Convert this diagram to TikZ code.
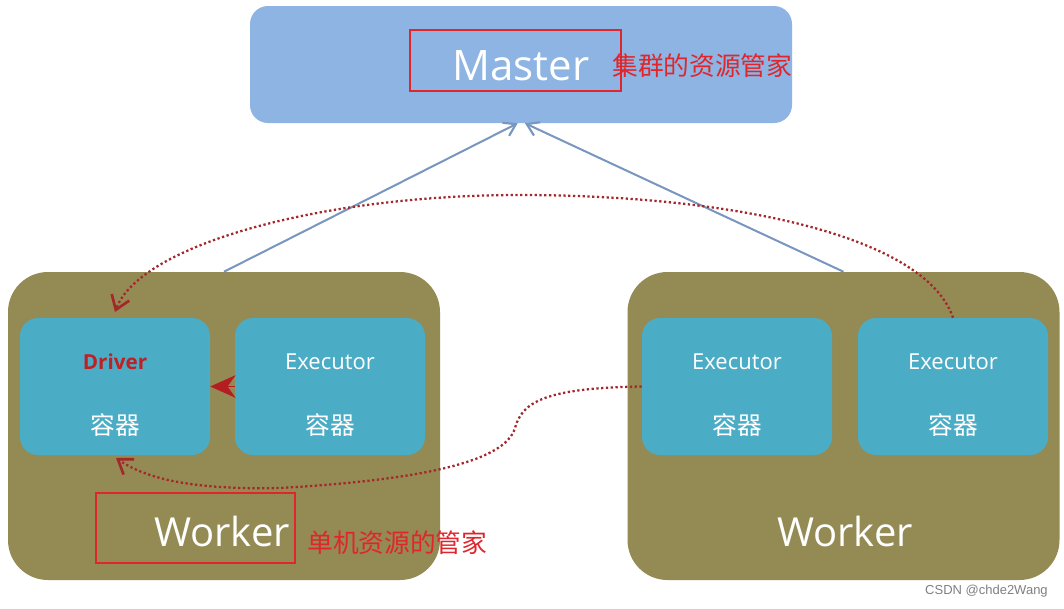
\documentclass[tikz,border=0pt]{standalone}
\usepackage{fontspec}
\setmainfont{Open Sans}
\newfontfamily\cjk{Noto Sans CJK SC}
\newfontfamily\wmfont{Liberation Sans}
\usetikzlibrary{arrows.meta}
\definecolor{masterblue}{HTML}{8DB4E2}
\definecolor{olive}{HTML}{948A54}
\definecolor{teal}{HTML}{4BACC6}
\definecolor{linkblue}{HTML}{7896BE}
\definecolor{annred}{HTML}{E0262C}
\definecolor{dotred}{HTML}{A3272B}
\definecolor{wmgray}{HTML}{808080}
\tikzset{
  masterbox/.style={fill=masterblue, rounded corners=13.5pt, minimum width=406.5pt, minimum height=87.75pt, inner sep=0pt},
  workerbox/.style={fill=olive, rounded corners=30pt, minimum width=324pt, minimum height=231pt, inner sep=0pt},
  cbox/.style={fill=teal, rounded corners=13.5pt, minimum width=142.5pt, minimum height=102.75pt, inner sep=0pt},
  annbox/.style={draw=annred, line width=1.5pt, inner sep=0pt},
  whitetxt/.style={text=white, inner sep=0pt},
  exectxt/.style={whitetxt, font=\fontsize{16.5}{18}\selectfont},
  cjktxt/.style={whitetxt, font=\cjk\fontsize{18.5}{20}\selectfont},
  bigtxt/.style={whitetxt, font=\fontsize{30}{34}\selectfont},
  anntxt/.style={text=annred, inner sep=0pt, anchor=west, font=\cjk\fontsize{19.3}{22}\selectfont},
  bluelink/.style={draw=linkblue, line width=1.5pt, -{Straight Barb[length=8.5pt,width=11pt,line width=1.6pt]}},
  dotlink/.style={draw=dotred, line width=1.7pt, dash pattern=on 1.7pt off 1.9pt,
     -{Straight Barb[length=10pt,width=14pt,line width=2pt,sep=0pt]}},
}
\begin{document}
\begin{tikzpicture}[x=0.75pt,y=-0.75pt]
\path[use as bounding box, fill=white] (0,0) rectangle (1064,608);

% Master
\node[masterbox] (master) at (521,64.5) {};
\node[annbox, minimum width=158.25pt, minimum height=45.75pt] (masterann) at (515.5,60.5) {};
\node[whitetxt, font=\fontsize{31.5}{36}\selectfont] (mastertxt) at (521,66) {Master};
\node[anntxt] (masterlbl) at (612,66) {集群的资源管家};

% Workers
\node[workerbox] (lw) at (224,426) {};
\node[workerbox] (rw) at (843.5,426) {};

% Containers
\node[cbox] (driver) at (115,386.5) {};
\node[cbox] (exa) at (330,386.5) {};
\node[cbox] (exb) at (737,386.5) {};
\node[cbox] (exc) at (953,386.5) {};

\node[inner sep=0pt, text=annred!85!black, font=\bfseries\fontsize{15.5}{18}\selectfont] (drvtxt) at (115,362) {Driver};
\node[cjktxt] (drvc) at (115,425) {容器};
\node[exectxt] (exatxt) at (330,362) {Executor};
\node[cjktxt] (exac) at (330,425) {容器};
\node[exectxt] (exbtxt) at (737,362) {Executor};
\node[cjktxt] (exbc) at (737,425) {容器};
\node[exectxt] (exctxt) at (953,362) {Executor};
\node[cjktxt] (excc) at (953,425) {容器};

% Worker labels
\node[annbox, minimum width=149.25pt, minimum height=52.5pt] (workerann) at (195.5,528) {};
\node[bigtxt] (lwtxt) at (222,531) {Worker};
\node[bigtxt] (rwtxt) at (845,531) {Worker};
\node[anntxt] (workerlbl) at (307,543) {单机资源的管家};

% Blue links to master
\draw[bluelink] (lw.north) -- ([xshift=-2.5pt]master.south);
\draw[bluelink] (rw.north) -- ([xshift=3pt]master.south);

% Red arrow executor -> driver
\draw[draw=annred!80!black, line width=1pt, -{Stealth[length=19pt,width=17pt,inset=6pt]}] (exa.west) -- (driver.east);

% Dotted links
\coordinate (d1end) at (115,312);
\coordinate (d2end) at (116,458);
\draw[dotlink] (exc.north) .. controls (925,235) and (730,195) .. (520,195)
   .. controls (320,195) and (140,245) .. (d1end);
\draw[dotlink] (exb.west) .. controls (545,388) and (522,402) .. (515,428)
   .. controls (505,462) and (420,480) .. (280,488)
   .. controls (190,490) and (145,478) .. (d2end);

% Watermark
\node[text=wmgray, inner sep=0pt, anchor=east, font=\wmfont\fontsize{9.75}{11}\selectfont] (wm) at (1048,591) {CSDN @chde2Wang};
\end{tikzpicture}
\end{document}
